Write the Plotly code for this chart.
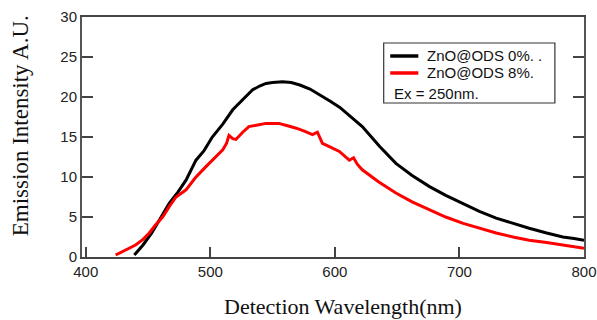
import plotly.graph_objects as go

# Black series: ZnO@ODS 0%
wl_0 = [439, 446, 453, 460, 467, 474, 480.5, 488.5, 495, 501.6, 510, 518, 526, 534, 540, 544.7, 550, 558, 565, 571.9,
        580, 588, 596, 604, 613, 622, 636, 649, 662, 676, 689, 702.6, 716, 729.5, 743, 756, 770, 783, 792, 800]
int_0 = [0.25, 1.5, 3.0, 4.8, 6.7, 8.1, 9.6, 12.1, 13.3, 15.0, 16.6, 18.4, 19.6, 20.9, 21.4, 21.7, 21.8, 21.9, 21.8, 21.5,
         21.0, 20.3, 19.5, 18.7, 17.5, 16.3, 13.8, 11.7, 10.2, 8.8, 7.7, 6.7, 5.7, 4.85, 4.2, 3.6, 3.0, 2.5, 2.3, 2.1]

# Red series: ZnO@ODS 8%
wl_8 = [424, 432, 440, 446, 451, 456, 461.7, 467, 472.5, 480.5, 488, 496.5, 503, 510, 513, 515, 518, 520.6, 526, 531,
        538, 544.7, 550, 555, 562, 569, 576, 582, 586, 590, 595.6, 603.6, 611.6, 615, 618, 622, 635, 649, 662, 676,
        689, 703, 716, 729.5, 743, 756, 770, 783, 792, 800]
int_8 = [0.25, 0.9, 1.5, 2.2, 3.0, 4.0, 5.0, 6.3, 7.5, 8.4, 9.9, 11.3, 12.3, 13.4, 14.2, 15.2, 14.8, 14.7, 15.6, 16.3,
         16.5, 16.7, 16.7, 16.7, 16.4, 16.1, 15.7, 15.3, 15.6, 14.2, 13.8, 13.2, 12.1, 12.4, 11.6, 10.9, 9.4, 8.0, 6.9, 5.9,
         5.0, 4.2, 3.6, 3.0, 2.5, 2.1, 1.8, 1.5, 1.3, 1.1]

names = ["ZnO@ODS 0%. .", "ZnO@ODS 8%."]
colors = ["#000000", "#ff0000"]
note = "Ex = 250nm."
x_ticks = [400, 500, 600, 700, 800]
y_ticks = [0, 5, 10, 15, 20, 25, 30]
x_title = "Detection Wavelength(nm)"
y_title = "Emission Intensity A.U."

fig = go.Figure()
for wl, inten, nm, col in [(wl_0, int_0, names[0], colors[0]), (wl_8, int_8, names[1], colors[1])]:
    fig.add_trace(go.Scatter(x=wl, y=inten, mode="lines", name=nm,
                             line=dict(color=col, width=3), showlegend=False))

sans = "Liberation Sans, Arial"
serif = "Liberation Serif, Times New Roman"
axis_font = dict(family=sans, size=15, color="#222")

# custom legend (compact spacing as in the reference)
shapes = [dict(type="rect", xref="paper", yref="paper", x0=0.601, x1=0.942, y0=0.6417, y1=0.8917,
               line=dict(color="#333", width=1.2), fillcolor="rgba(0,0,0,0)")]
annotations = []
leg_y = [0.8375, 0.7667]
for nm, col, yy in zip(names, colors, leg_y):
    shapes.append(dict(type="line", xref="paper", yref="paper", x0=0.614, x1=0.67, y0=yy, y1=yy,
                       line=dict(color=col, width=3.5)))
    annotations.append(dict(text=nm, xref="paper", yref="paper", x=0.684, y=yy, xanchor="left",
                            yanchor="middle", showarrow=False, font=dict(family=sans, size=15, color="#111")))
annotations.append(dict(text=note, xref="paper", yref="paper", x=0.618, y=0.6813, xanchor="left",
                        yanchor="middle", showarrow=False, font=dict(family=sans, size=15, color="#111")))
annotations.append(dict(text=x_title, xref="paper", yref="paper", x=0.519, y=-0.208, xanchor="center",
                        yanchor="middle", showarrow=False, font=dict(family=serif, size=22, color="#111")))
annotations.append(dict(text=y_title, xref="paper", yref="paper", x=-0.122, y=0.548, xanchor="center",
                        yanchor="middle", showarrow=False, textangle=-90,
                        font=dict(family=serif, size=23, color="#111")))

fig.update_layout(
    width=597, height=320,
    margin=dict(l=82, r=13, t=17, b=63, autoexpand=False),
    paper_bgcolor="white", plot_bgcolor="white",
    showlegend=False,
    xaxis=dict(range=[397, 800], tickvals=x_ticks, ticks="inside", ticklen=10, tickwidth=1.5,
               tickcolor="#444", showline=True, linecolor="#444", linewidth=2, mirror=True,
               showgrid=False, zeroline=False, tickfont=axis_font, automargin=False,
               ticklabeloverflow="allow"),
    yaxis=dict(range=[0, 30], tickvals=y_ticks, ticks="inside", ticklen=11, tickwidth=1.5,
               tickcolor="#444", showline=True, linecolor="#555", linewidth=2, mirror="ticks",
               showgrid=False, zeroline=False, tickfont=axis_font, automargin=False,
               ticklabeloverflow="allow"),
    shapes=shapes,
    annotations=annotations,
)

fig.write_html("out.html", config={"displayModeBar": False},
               post_script="document.body.style.margin='0px';")
